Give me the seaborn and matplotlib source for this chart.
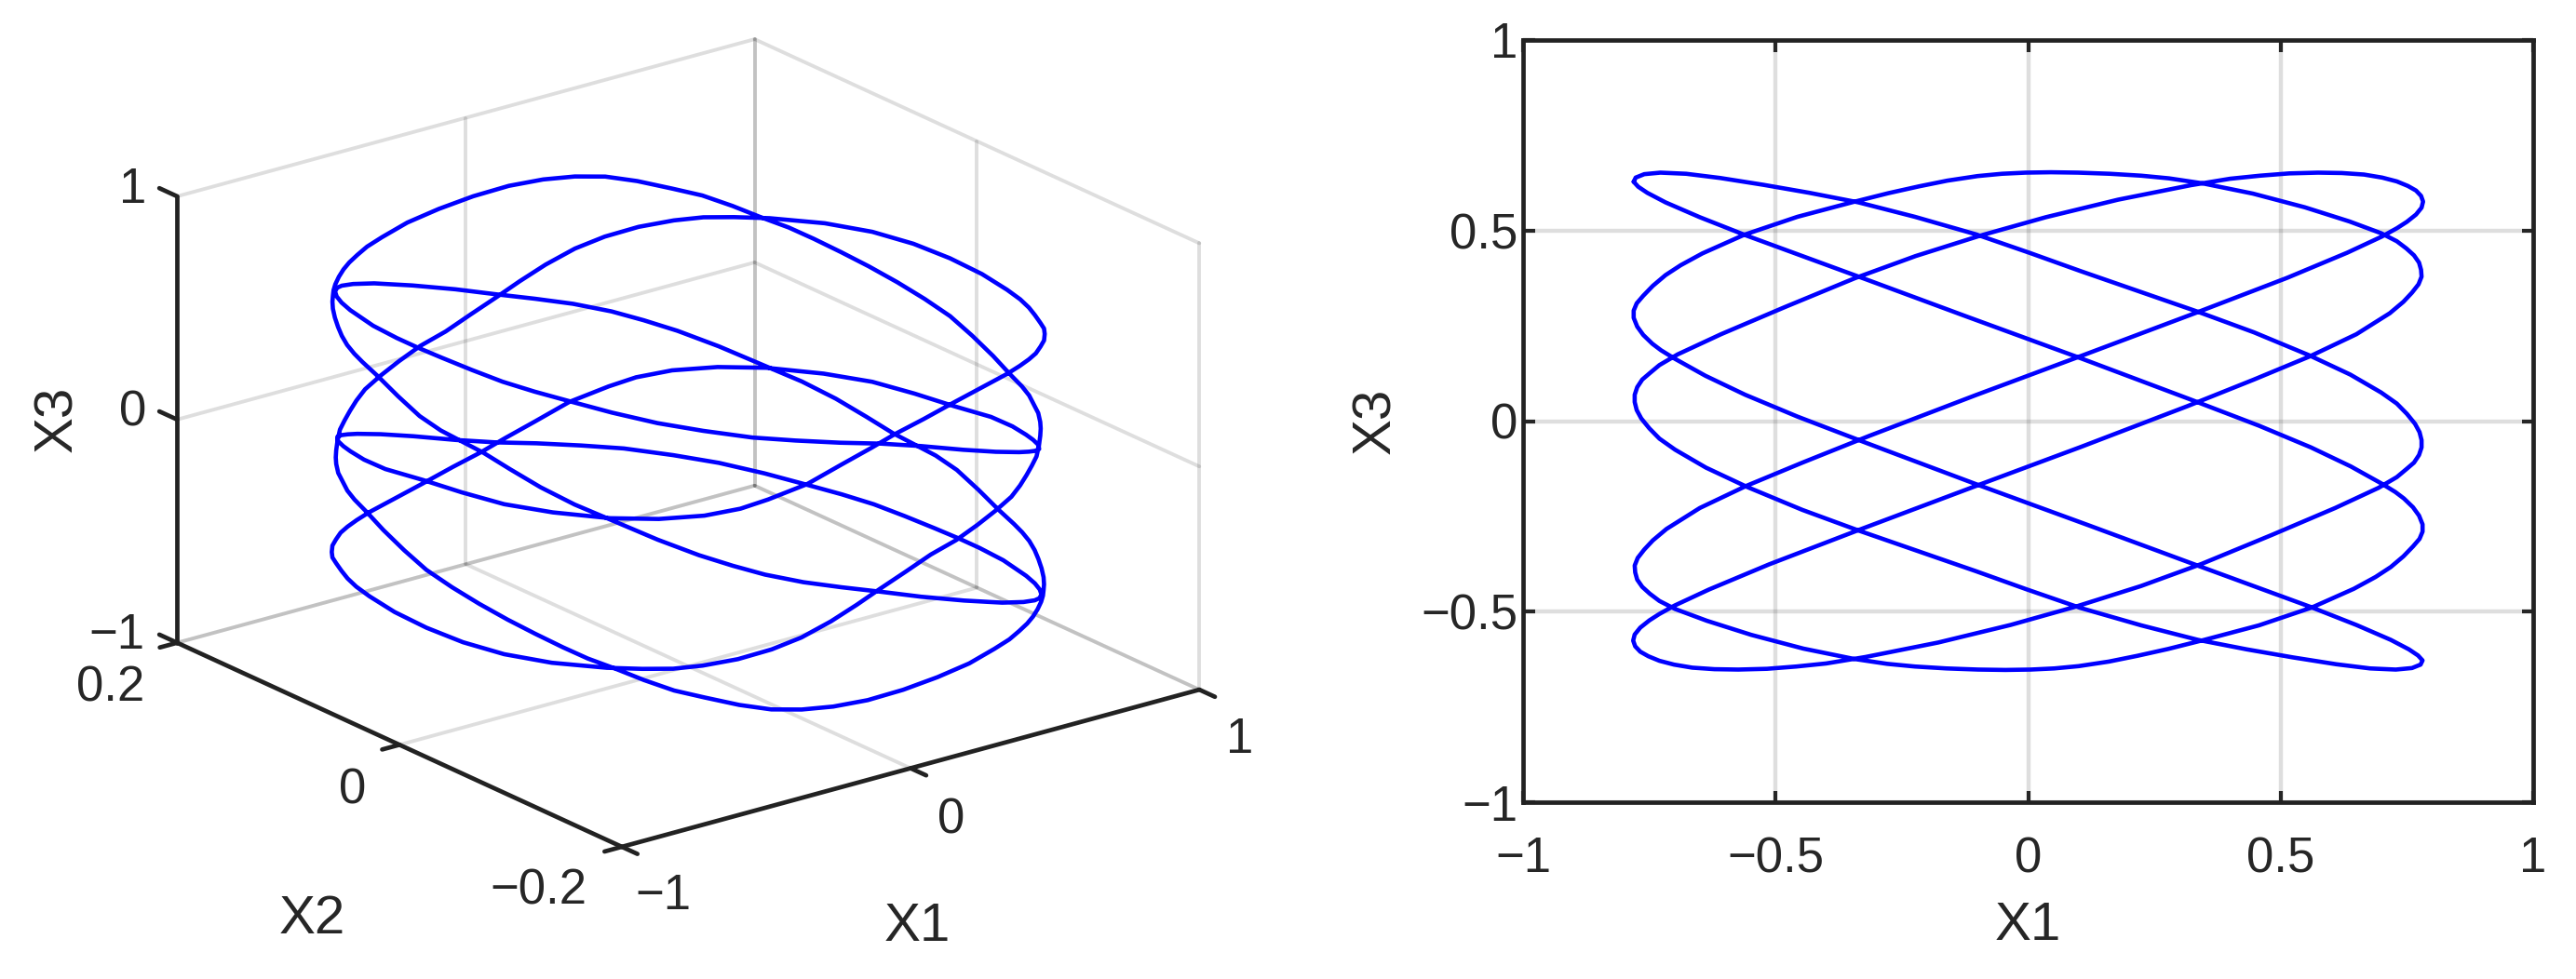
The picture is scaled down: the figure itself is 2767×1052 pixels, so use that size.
import numpy as np
import pandas as pd
import seaborn as sns
from matplotlib import pyplot as plt

# curve (X1 in hundredths, X2 and X3 in thousandths)
X1_3D = [-62,-63,-64,-65,-67,-71,-74,-76,-78,-78,-77,-74,-70,-63,-53,-41,-27,-13,1,14,27,39,48,53,56,57,58,62,64,65,68,71,75,78,78,75,69,61,51,42,34,22,10,0,-9,-18,-28,-38,-45,-49,-51,-53,-55,-57,-58,-62,-63,-65,-66,-68,-70,-74,-76,-78,-78,-75,-69,-64,-58,-52,-44,-35,-27,-18,-9,-1,8,17,25,32,38,43,46,49,52,54,56,58,62,63,65,66,68,69,72,74,76,78,78,77,76,73,70,66,61,55,48,41,32,24,15,6,-4,-14,-24,-33,-41,-45,-48,-50,-52,-54,-56,-57,-58,-62,-63,-65,-67,-68,-70,-71,-72,-74,-77,-78,-78,-78,-76,-74,-70,-64,-57,-46,-34,-25,-15,-4,8,19,31,42,51,56,58,
         62,63,64,65,67,71,74,76,78,78,77,74,70,63,53,41,27,13,-1,-14,-27,-39,-48,-53,-56,-57,-58,-62,-64,-65,-68,-71,-75,-78,-78,-75,-69,-61,-51,-42,-34,-22,-10,0,9,18,28,38,45,49,51,53,55,57,58,62,63,65,66,68,70,74,76,78,78,75,69,64,58,52,44,35,27,18,9,1,-8,-17,-25,-32,-38,-43,-46,-49,-52,-54,-56,-58,-62,-63,-65,-66,-68,-69,-72,-74,-76,-78,-78,-77,-76,-73,-70,-66,-61,-55,-48,-41,-32,-24,-15,-6,4,14,24,33,41,45,48,50,52,54,56,57,58,62,63,65,67,68,70,71,72,74,77,78,78,78,76,74,70,64,57,46,34,25,15,4,-8,-19,-31,-42,-51,-56,-58,-62]
X2_3D = [155,154,150,143,130,99,70,46,19,-8,-33,-54,-75,-95,-110,-120,-128,-130,-134,-137,-139,-146,-152,-160,-161,-164,-165,-154,-144,-135,-115,-88,-44,-1,37,73,109,132,147,156,160,164,164,165,163,165,166,166,170,171,174,175,174,172,170,159,153,143,135,122,105,72,38,0,-37,-72,-106,-125,-137,-148,-159,-166,-172,-175,-175,-175,-175,-174,-176,-177,-178,-179,-179,-177,-174,-173,-170,-166,-156,-153,-146,-139,-130,-121,-102,-82,-58,-33,-10,12,35,52,69,81,93,103,112,121,129,137,141,146,151,157,162,167,169,172,173,175,175,174,172,171,169,159,156,149,141,135,125,116,106,87,61,39,20,1,-13,-32,-49,-64,-81,-92,-98,-105,-108,-114,-117,-124,-129,-139,-150,-156,-161,
         -155,-154,-150,-143,-130,-99,-70,-46,-19,8,33,54,75,95,110,120,128,130,134,137,139,146,152,160,161,164,165,154,144,135,115,88,44,1,-37,-73,-109,-132,-147,-156,-160,-164,-164,-165,-163,-165,-166,-166,-170,-171,-174,-175,-174,-172,-170,-159,-153,-143,-135,-122,-105,-72,-38,0,37,72,106,125,137,148,159,166,172,175,175,175,175,174,176,177,178,179,179,177,174,173,170,166,156,153,146,139,130,121,102,82,58,33,10,-12,-35,-52,-69,-81,-93,-103,-112,-121,-129,-137,-141,-146,-151,-157,-162,-167,-169,-172,-173,-175,-175,-174,-172,-171,-169,-159,-156,-149,-141,-135,-125,-116,-106,-87,-61,-39,-20,-1,13,32,49,64,81,92,98,105,108,114,117,124,129,139,150,156,161,155]
X3_3D = [559,548,539,531,534,549,571,590,613,620,621,614,605,575,527,473,412,354,304,261,209,166,139,138,132,139,146,125,118,117,98,68,2,-51,-85,-120,-155,-176,-190,-210,-232,-268,-314,-356,-382,-421,-462,-496,-540,-564,-593,-615,-636,-652,-673,-658,-667,-671,-683,-683,-680,-661,-647,-618,-587,-556,-522,-501,-494,-476,-450,-422,-383,-336,-293,-250,-204,-162,-121,-75,-29,17,57,88,113,145,180,208,203,222,239,262,271,287,290,317,346,369,394,422,444,479,511,548,584,633,684,719,766,796,819,826,821,796,763,722,680,645,616,585,561,537,515,494,476,488,467,450,434,411,400,385,374,361,341,306,285,279,254,216,160,96,36,-61,-159,-222,-290,-349,-407,-450,-503,-536,-552,-553,-541,
         -559,-548,-539,-531,-534,-549,-571,-590,-613,-620,-621,-614,-605,-575,-527,-473,-412,-354,-304,-261,-209,-166,-139,-138,-132,-139,-146,-125,-118,-117,-98,-68,-2,51,85,120,155,176,190,210,232,268,314,356,382,421,462,496,540,564,593,615,636,652,673,658,667,671,683,683,680,661,647,618,587,556,522,501,494,476,450,422,383,336,293,250,204,162,121,75,29,-17,-57,-88,-113,-145,-180,-208,-203,-222,-239,-262,-271,-287,-290,-317,-346,-369,-394,-422,-444,-479,-511,-548,-584,-633,-684,-719,-766,-796,-819,-826,-821,-796,-763,-722,-680,-645,-616,-585,-561,-537,-515,-494,-476,-488,-467,-450,-434,-411,-400,-385,-374,-361,-341,-306,-285,-279,-254,-216,-160,-96,-36,61,159,222,290,349,407,450,503,536,552,553,541,559]

# curve (thousandths)
X1_FLAT = [-781,-777,-760,-728,-677,-610,-524,-433,-336,-224,-103,4,103,223,336,447,556,638,699,730,750,766,775,779,779,774,764,749,730,694,608,482,343,223,94,-35,-178,-322,-400,-459,-517,-574,-621,-665,-701,-730,-752,-768,-778,-782,-779,-768,-750,-730,-700,-632,-513,-330,-107,104,315,447,558,650,716,743,760,773,779,778,774,764,749,730,699,636,548,445,345,279,224,162,99,45,-5,-52,-100,-160,-216,-277,-349,-457,-562,-645,-688,-718,-743,-762,-775,-781,-781,-774,-762,-744,-727,-700,-639,-560,-457,-319,-102,121,319,447,558,650,718,754,772,
           781,777,760,728,677,610,524,433,336,224,103,-4,-103,-223,-336,-447,-556,-638,-699,-730,-750,-766,-775,-779,-779,-774,-764,-749,-730,-694,-608,-482,-343,-223,-94,35,178,322,400,459,517,574,621,665,701,730,752,768,778,782,779,768,750,730,700,632,513,330,107,-104,-315,-447,-558,-650,-716,-743,-760,-773,-779,-778,-774,-764,-749,-730,-699,-636,-548,-445,-345,-279,-224,-162,-99,-45,5,52,100,160,216,277,349,457,562,645,688,718,743,762,775,781,781,774,762,744,727,700,639,560,457,319,102,-121,-319,-447,-558,-650,-718,-754,-772,-781]
X3_FLAT = [628,639,648,652,649,638,620,599,574,536,490,441,394,339,287,233,173,122,75,46,19,-7,-29,-50,-69,-89,-109,-126,-147,-175,-228,-299,-375,-433,-487,-535,-581,-619,-636,-644,-650,-652,-651,-647,-639,-629,-617,-605,-591,-576,-560,-542,-523,-506,-484,-442,-376,-283,-172,-68,39,109,170,228,283,313,337,359,379,397,416,435,453,472,493,524,561,597,624,637,644,649,652,653,652,649,643,631,616,598,574,536,489,440,409,383,355,329,309,290,271,248,226,203,186,164,119,69,12,-58,-166,-274,-371,-433,-487,-535,-574,-599,-615,
           -628,-639,-648,-652,-649,-638,-620,-599,-574,-536,-490,-441,-394,-339,-287,-233,-173,-122,-75,-46,-19,7,29,50,69,89,109,126,147,175,228,299,375,433,487,535,581,619,636,644,650,652,651,647,639,629,617,605,591,576,560,542,523,506,484,442,376,283,172,68,-39,-109,-170,-228,-283,-313,-337,-359,-379,-397,-416,-435,-453,-472,-493,-524,-561,-597,-624,-637,-644,-649,-652,-653,-652,-649,-643,-631,-616,-598,-574,-536,-489,-440,-409,-383,-355,-329,-309,-290,-271,-248,-226,-203,-186,-164,-119,-69,-12,58,166,274,371,433,487,535,574,599,615,628]

TICKS = [-1, -.5, 0, .5, 1]
TICK_TEXT = ['\u22121', '\u22120.5', '0', '0.5', '1']
X_TICKS_3D = [-1, 0, 1]
Y_TICKS_3D = [-.2, 0, .2]
Z_TICKS_3D = [-1, 0, 1]

W, H = 2767, 1052
INK = '#262626'
BLUE = (0, 0, 1)
FS = 38

sns.set_theme(style='ticks', font='Liberation Sans')
plt.rcParams['font.family'] = ['Liberation Sans', 'DejaVu Sans']
fig = plt.figure(figsize=(W/100, H/100), dpi=100)

# right panel
ax = fig.add_axes([1636/W, 1-862/H, 1085/W, 819/H])
df = pd.DataFrame({'X1': np.array(X1_FLAT)/1000, 'X3': np.array(X3_FLAT)/1000})
sns.lineplot(data=df, x='X1', y='X3', sort=False, estimator=None, color=BLUE, lw=3.3, ax=ax)
ax.set_xlim(-1, 1)
ax.set_ylim(-1, 1)
ax.set_xticks(TICKS)
ax.set_yticks(TICKS)
ax.set_xticklabels(TICK_TEXT)
ax.set_yticklabels(TICK_TEXT)
ax.grid(True, color=INK, alpha=.15, lw=3.2)
ax.set_axisbelow(True)
ax.tick_params(direction='in', top=True, right=True, length=9, width=3, labelsize=FS, colors=INK)
ax.tick_params(axis='x', pad=26)
ax.tick_params(axis='y', pad=4)
for s in ax.spines.values():
    s.set_linewidth(3.4)
    s.set_color('#222222')
ax.set_xlabel('X1', fontsize=42, color=INK, va='center')
ax.set_ylabel('X3', fontsize=42, color=INK, va='center')
ax.xaxis.set_label_coords(.5, (862-995)/819)
ax.yaxis.set_label_coords((1478-1636)/1085, .5)

# left panel
ax3 = fig.add_axes([71.7/W, -91.6/H, 1300/W, 1300/H], projection='3d', proj_type='ortho', computed_zorder=False)
ax3.set_axis_off()
ax3.set_box_aspect((1, 1, .655), zoom=.9112)
ax3.view_init(elev=20.7, azim=-127.6)
ax3.set_xlim(-1, 1)
ax3.set_ylim(-.2, .2)
ax3.set_zlim(-1, 1)

grid = dict(color=INK, alpha=.15, lw=2.8, zorder=1, clip_on=False)
axis = dict(color='#222222', lw=3.4, zorder=4, clip_on=False)
for z in Z_TICKS_3D:
    ax3.plot([-1, 1], [.2, .2], [z, z], **grid)
    ax3.plot([1, 1], [-.2, .2], [z, z], **grid)
for xv in X_TICKS_3D[1:]:
    ax3.plot([xv, xv], [.2, .2], [-1, 1], **grid)
    ax3.plot([xv, xv], [-.2, .2], [-1, -1], **grid)
for yv in Y_TICKS_3D:
    ax3.plot([1, 1], [yv, yv], [-1, 1], **grid)
for yv in Y_TICKS_3D[1:]:
    ax3.plot([-1, 1], [yv, yv], [-1, -1], **grid)

ax3.plot(np.array(X1_3D)/100, np.array(X2_3D)/1000, np.array(X3_3D)/1000, color=BLUE, lw=3.3, zorder=3, clip_on=False)

ax3.plot([-1, -1], [.2, .2], [-1, 1], **axis)
ax3.plot([-1, -1], [-.2, .2], [-1, -1], **axis)
ax3.plot([-1, 1], [-.2, -.2], [-1, -1], **axis)
for z in Z_TICKS_3D:
    ax3.plot([-1, -1], [.2, .216], [z, z], **axis)
for yv in Y_TICKS_3D:
    ax3.plot([-1, -1.06], [yv, yv], [-1, -1], **axis)
for xv in X_TICKS_3D:
    ax3.plot([xv, xv], [-.2, -.214], [-1, -1], **axis)

labels = [('1', 143, 204), ('0', 143, 443), ('\u22121', 125, 683),
          ('0.2', 119, 739), ('0', 379, 849), ('\u22120.2', 578, 958),
          ('\u22121', 712, 963), ('0', 1022, 881), ('1', 1332, 795)]
for t, px, py in labels:
    fig.text(px/W, 1-py/H, t, fontsize=FS, color=INK, ha='center', va='center')
fig.text(335/W, 1-988/H, 'X2', fontsize=42, color=INK, ha='center', va='center')
fig.text(985/W, 1-996/H, 'X1', fontsize=42, color=INK, ha='center', va='center')
fig.text(62/W, 1-450/H, 'X3', fontsize=42, color=INK, ha='center', va='center', rotation=90)

fig.savefig('out.png', dpi=100)
